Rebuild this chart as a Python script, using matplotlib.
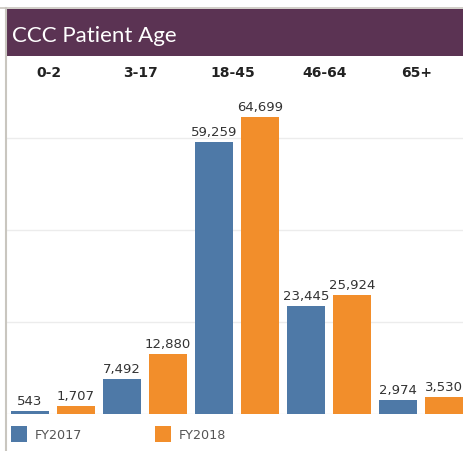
import numpy as np
import matplotlib.pyplot as plt
from matplotlib.patches import Rectangle
from matplotlib.lines import Line2D

# data
ages = ['0-2', '3-17', '18-45', '46-64', '65+']
fy2017 = [543, 7492, 59259, 23445, 2974]
fy2018 = [1707, 12880, 64699, 25924, 3530]
series = ['FY2017', 'FY2018']

blue = '#4E79A7'
orange = '#F28E2B'
W, H = 464, 452


def fx(px):
    return px / W


def fy(py):
    # py measured from the top of the image
    return 1 - py / H


fig = plt.figure(figsize=(W / 100, H / 100), dpi=100)
fig.patch.set_facecolor('white')

# frame lines and title band
fig.add_artist(Line2D([0, 1], [fy(8.5), fy(8.5)], color='#c9c6bf', lw=1.2))
fig.add_artist(Line2D([fx(6), fx(6)], [fy(8.5), 0], color='#c9c6bf', lw=1.5))
fig.add_artist(Rectangle((fx(7), fy(57)), 1 - fx(7), fy(10) - fy(57),
                         facecolor='#5B3353', edgecolor='none'))
fig.text(fx(12), fy(36), 'CCC Patient Age', color='white', fontsize=16,
         family='Lato', va='center', ha='left')

# plot area: baseline at y=414.5, 20000 per 91.7 px
base = 414.5
step = 91.7
top = 90
ax = fig.add_axes([fx(7), fy(base), 460 / W, (base - top) / H])
ax.set_xlim(-0.5, 4.5)
ax.set_ylim(0, (base - top) * 20000 / step)

x = np.arange(len(ages))
bw = 38 / 92
off = 0.25
ax.bar(x - off, fy2017, width=bw, color=blue, zorder=2)
ax.bar(x + off, fy2018, width=bw, color=orange, zorder=2)

for i in range(len(ages)):
    ax.text(x[i] - off, fy2017[i] + 900, f'{fy2017[i]:,}', ha='center', va='bottom',
            fontsize=9.5, color='#333333')
    ax.text(x[i] + off, fy2018[i] + 900, f'{fy2018[i]:,}', ha='center', va='bottom',
            fontsize=9.5, color='#333333')

for g in [0, 20000, 40000, 60000]:
    ax.axhline(g, color='#ececec', lw=1, zorder=1)

for s in ax.spines.values():
    s.set_visible(False)
ax.set_xticks([])
ax.set_yticks([])
ax.patch.set_alpha(0)

# column headers
for i, a in enumerate(ages):
    fig.text(fx(7 + 92 * i + 42), fy(73), a, ha='center', va='center',
             fontsize=10, fontweight='bold', color='#222222')

# legend
for j, (name, col) in enumerate(zip(series, [blue, orange])):
    x0 = 11 + 144 * j
    fig.add_artist(Rectangle((fx(x0), fy(443)), fx(16), fy(427) - fy(443),
                             facecolor=col, edgecolor='none'))
    fig.text(fx(x0 + 24), fy(436), name, ha='left', va='center',
             fontsize=9.2, color='#555555')

fig.savefig('out.png', dpi=100)
